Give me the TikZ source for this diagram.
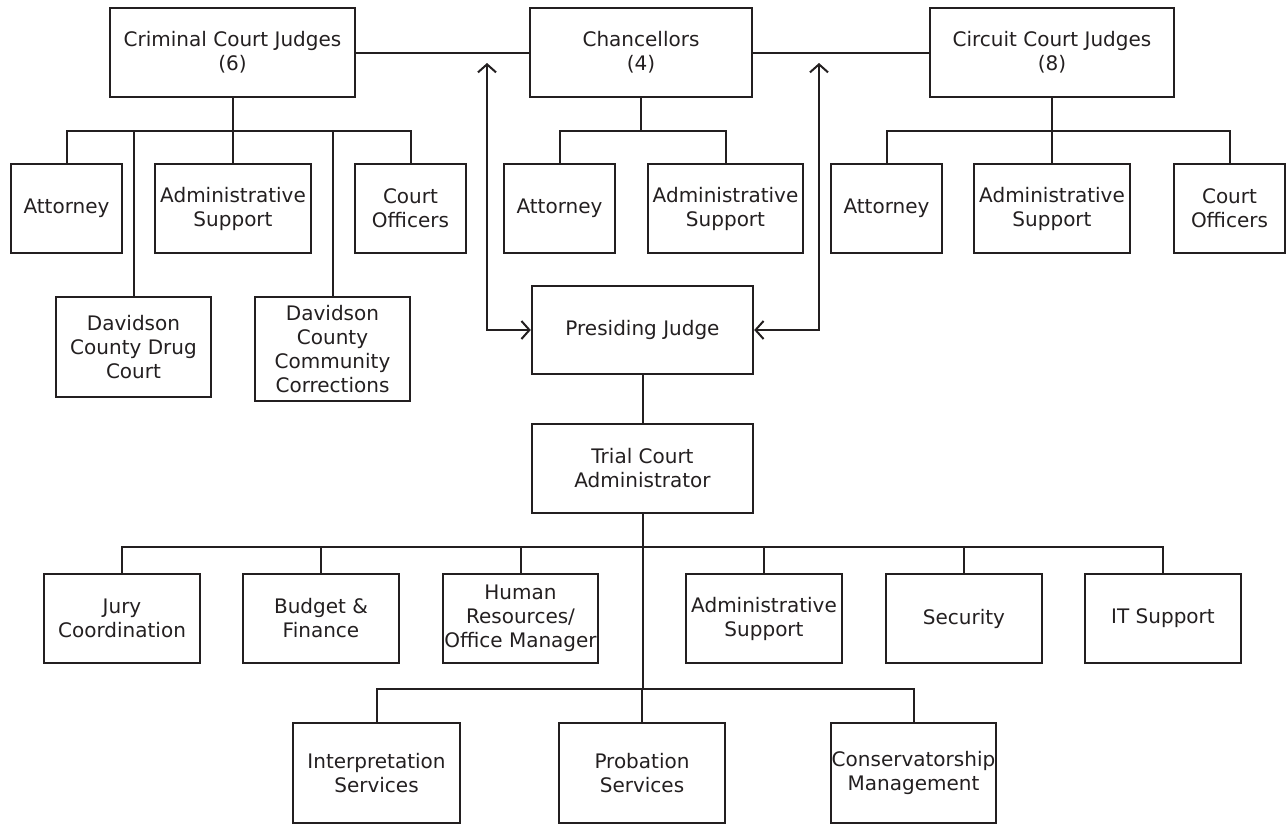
\documentclass[tikz,border=0pt]{standalone}
\usepackage{fontspec}
\setmainfont{DejaVu Sans}
\usetikzlibrary{arrows.meta}
\definecolor{ink}{RGB}{35,31,32}
\begin{document}
\begin{tikzpicture}[x=1pt,y=-1pt,
  box/.style={draw=ink,line width=2.4pt,align=center,inner sep=0pt,text=ink,
    font=\fontsize{20}{24}\selectfont,minimum height=89pt},
  link/.style={draw=ink,line width=2pt},
  dbl/.style={link,{Straight Barb[length=8pt,width=18pt]}-{Straight Barb[length=8pt,width=18pt]}}]
\useasboundingbox (0,0) rectangle (1286,825);
% top row
\node[box,minimum width=245pt] (crim) at (232.5,52.5) {Criminal Court Judges\\(6)};
\node[box,minimum width=222pt] (chan) at (641,52.5) {Chancellors\\(4)};
\node[box,minimum width=244pt] (circ) at (1052,52.5) {Circuit Court Judges\\(8)};
% criminal children
\node[box,minimum width=111pt] (cA) at (66.5,208.5) {Attorney};
\node[box,minimum width=156pt] (cS) at (233,208.5) {Administrative\\Support};
\node[box,minimum width=111pt] (cO) at (410.5,208.5) {Court\\Officers};
\node[box,minimum width=155pt,minimum height=100pt] (drug) at (133.5,347) {Davidson\\County Drug\\Court};
\node[box,minimum width=155pt,minimum height=104pt] (corr) at (332.5,349) {Davidson\\County\\Community\\Corrections};
% chancellor children
\node[box,minimum width=111pt] (hA) at (559.5,208.5) {Attorney};
\node[box,minimum width=155pt] (hS) at (725.5,208.5) {Administrative\\Support};
% circuit children
\node[box,minimum width=111pt] (rA) at (886.5,208.5) {Attorney};
\node[box,minimum width=156pt] (rS) at (1052,208.5) {Administrative\\Support};
\node[box,minimum width=111pt] (rO) at (1229.5,208.5) {Court\\Officers};
% centre
\node[box,minimum width=221pt,minimum height=88pt] (pres) at (642.5,330) {Presiding Judge};
\node[box,minimum width=221pt] (tca) at (642.5,468.5) {Trial Court\\Administrator};
% row 1
\node[box,minimum width=156pt] (jury) at (122,618.5) {Jury\\Coordination};
\node[box,minimum width=156pt] (budget) at (321,618.5) {Budget \&\\Finance};
\node[box,minimum width=155pt] (hr) at (520.5,618.5) {Human\\Resources/\\Office Manager};
\node[box,minimum width=156pt] (adm) at (764,618.5) {Administrative\\Support};
\node[box,minimum width=156pt] (sec) at (964,618.5) {Security};
\node[box,minimum width=156pt] (it) at (1163,618.5) {IT Support};
% row 2
\node[box,minimum width=167pt,minimum height=100pt] (interp) at (376.5,773) {Interpretation\\Services};
\node[box,minimum width=166pt,minimum height=100pt] (prob) at (642,773) {Probation\\Services};
\node[box,minimum width=165pt,minimum height=100pt] (cons) at (913.5,773) {Conservatorship\\Management};
% coordinates
\coordinate (cb) at (232.5,131);
\coordinate (hb) at (641,131);
\coordinate (rb) at (1052,131);
\coordinate (la) at (487,63);
\coordinate (ra) at (819,63);
\coordinate (b1) at (642.5,547);
\coordinate (b2) at (642.5,689);
% top links
\draw[link] (crim.east) -- (chan.west);
\draw[link] (chan.east) -- (circ.west);
% criminal tree
\draw[link] (crim.south) -- (cb);
\draw[link] (cA.north) -- (cA.north|-cb) -- (cO.north|-cb) -- (cO.north);
\draw[link] (cS.north) -- (cS.north|-cb);
\draw[link] (drug.north) -- (drug.north|-cb);
\draw[link] (corr.north) -- (corr.north|-cb);
% chancellor tree
\draw[link] (chan.south) -- (hb);
\draw[link] (hA.north) -- (hA.north|-hb) -- (hS.north|-hb) -- (hS.north);
% circuit tree
\draw[link] (circ.south) -- (rb);
\draw[link] (rA.north) -- (rA.north|-rb) -- (rO.north|-rb) -- (rO.north);
\draw[link] (rS.north) -- (rS.north|-rb);
% presiding arrows
\draw[dbl] (la) |- (pres.west);
\draw[dbl] (ra) |- (pres.east);
\draw[link] (pres.south) -- (tca.north);
% admin tree
\draw[link] (tca.south) -- (b2);
\draw[link] (jury.north) -- (jury.north|-b1) -- (it.north|-b1) -- (it.north);
\draw[link] (budget.north) -- (budget.north|-b1);
\draw[link] (hr.north) -- (hr.north|-b1);
\draw[link] (adm.north) -- (adm.north|-b1);
\draw[link] (sec.north) -- (sec.north|-b1);
\draw[link] (interp.north) -- (interp.north|-b2) -- (cons.north|-b2) -- (cons.north);
\draw[link] (prob.north) -- (prob.north|-b2);
\end{tikzpicture}
\end{document}
